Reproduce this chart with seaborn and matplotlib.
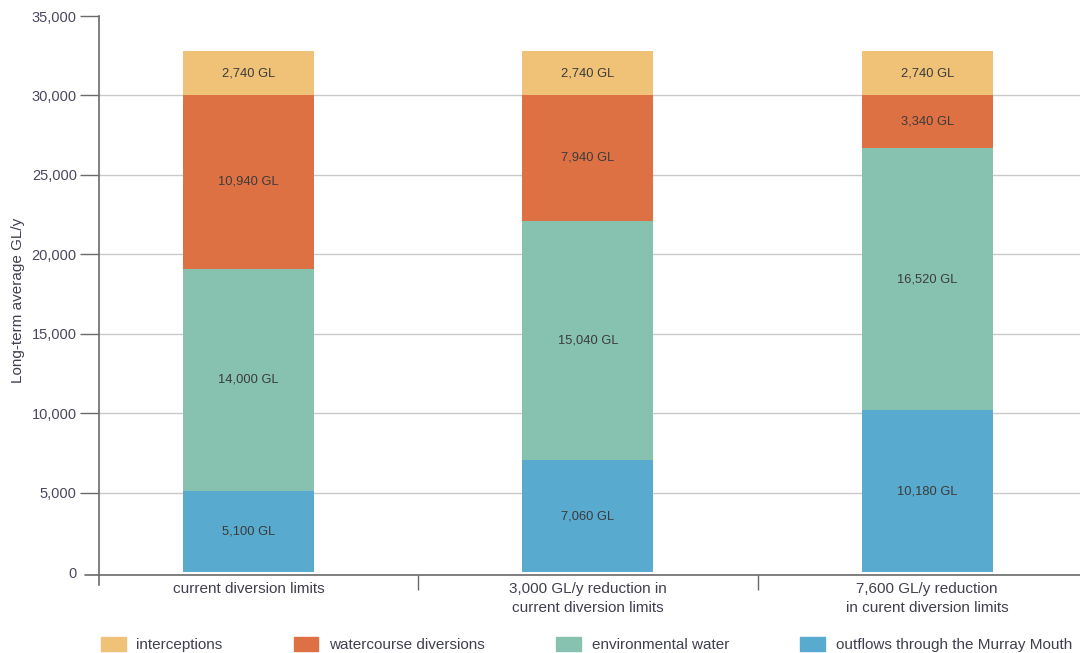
import matplotlib
matplotlib.use("Agg")
import matplotlib.pyplot as plt
import matplotlib.patches as mpatches
import matplotlib.transforms as mtransforms
import numpy as np
import pandas as pd
import seaborn as sns

# Scenarios and water-use components (GL/y, long-term average)
scenarios = [
    "current diversion limits",
    "3,000 GL/y reduction in\ncurrent diversion limits",
    "7,600 GL/y reduction\nin curent diversion limits",
]
components = [
    "outflows through the Murray Mouth",
    "environmental water",
    "watercourse diversions",
    "interceptions",
]
outflows = [5100, 7060, 10180]
environmental = [14000, 15040, 16520]
watercourse = [10940, 7940, 3340]
interceptions = [2740, 2740, 2740]

colors = {
    "interceptions": "#F0C277",
    "watercourse diversions": "#DE7143",
    "environmental water": "#87C2B0",
    "outflows through the Murray Mouth": "#58AACE",
}

sns.set_style("white")
plt.rcParams["font.family"] = ["Liberation Sans", "DejaVu Sans"]

values = np.array([outflows, environmental, watercourse, interceptions], dtype=float)
tops = np.cumsum(values, axis=0)
bottoms = tops - values

df = pd.DataFrame({"scenario": scenarios})
for comp, top in zip(components, tops):
    df[comp] = top

fig = plt.figure(figsize=(10.8, 6.53), dpi=100)
ax = fig.add_axes([99 / 1080, 1 - 585 / 653, 1 - 99 / 1080, (585 - 16) / 653])

bar_w = 0.385
# stacked bars: draw cumulative totals from the top layer down
for comp in components[::-1]:
    sns.barplot(data=df, x="scenario", y=comp, color=colors[comp],
                width=bar_w, saturation=1, linewidth=0, edgecolor="none",
                ax=ax, zorder=2)

# value labels in each segment
for i in range(len(components)):
    for j in range(len(scenarios)):
        ax.text(j, bottoms[i, j] + values[i, j] / 2, f"{int(values[i, j]):,} GL",
                ha="center", va="center", fontsize=9.3, color="#3b3b3b", zorder=3)

ax.set_xlim(-0.44, 2.45)
ax.set_ylim(-800, 35000)

# horizontal grid lines
for yv in range(5000, 35000, 5000):
    ax.axhline(yv, color="#c9c9c9", lw=1.0, zorder=1)

for s in ["top", "right"]:
    ax.spines[s].set_visible(False)
ax.spines["left"].set_color("#6a6a6a")
ax.spines["left"].set_linewidth(1.2)
ax.spines["bottom"].set_position(("data", -180))
ax.spines["bottom"].set_color("#6a6a6a")
ax.spines["bottom"].set_linewidth(1.2)

# extend the baseline a little to the left of the vertical axis
trans = mtransforms.blended_transform_factory(ax.transAxes, ax.transData)
ax.plot([-14 / (1080 - 99), 0], [-180, -180], transform=trans, color="#6a6a6a",
        lw=1.2, clip_on=False)

yticks = list(range(0, 35001, 5000))
ax.set_yticks(yticks)
ax.set_yticklabels([f"{v:,}" for v in yticks])
ax.tick_params(axis="y", direction="out", length=14, width=1.0, color="#6a6a6a",
               labelsize=10.5, labelcolor="#4a4860", pad=2, left=True)
# the baseline itself serves as the tick at zero
ax.yaxis.get_major_ticks()[0].tick1line.set_visible(False)

ax.set_xticks([0, 1, 2])
ax.set_xticklabels(scenarios, linespacing=1.45)
ax.set_xticks([0.5, 1.5], minor=True)
ax.tick_params(axis="x", which="major", length=0, labelsize=11, labelcolor="#3f3f4f", pad=5)
ax.tick_params(axis="x", which="minor", direction="out", length=11, width=1.0,
               color="#6a6a6a", bottom=True)
ax.set_xlabel("")
ax.set_ylabel("Long-term average GL/y", fontsize=11, color="#3f3f4f")
ax.yaxis.set_label_coords(-74 / (1080 - 99), 0.5)

handles = [mpatches.Patch(color=colors[c], label=c) for c in components[::-1]]
fig.legend(handles=handles, loc="lower left", ncol=4, mode="expand",
           bbox_to_anchor=(95 / 1080, -0.008, 1 - 95 / 1080 - 2 / 1080, 0.04),
           frameon=False, fontsize=11, handlelength=1.6, handleheight=1.0,
           handletextpad=0.7, borderaxespad=0.0, labelcolor="#3f3f4f")

fig.savefig("out.png", dpi=100)
